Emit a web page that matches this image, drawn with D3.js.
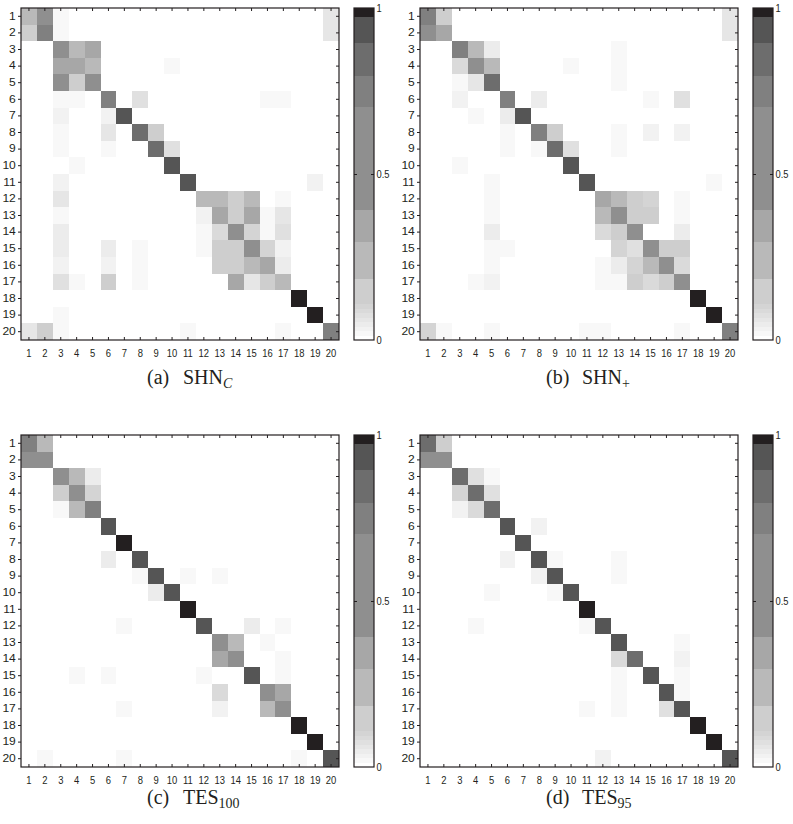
<!DOCTYPE html>
<html><head><meta charset="utf-8">
<script src="https://cdn.jsdelivr.net/npm/d3@7"></script>
<style>body{margin:0;background:#fff}svg{display:block}</style>
</head><body>
<svg id="chart" width="793" height="824"></svg>
<script>
// ---------- data ----------
const classes = d3.range(1, 21);
const tickLabels = classes.map(String);
const cbTicks = [0, 0.5, 1];
const cbTickLabels = ["0", "0.5", "1"];
// quantised grey colormap (value thresholds -> grey)
const cmapThresholds = [0.0135,0.027,0.0405,0.054,0.0675,0.081,0.0945,0.108,0.184,0.296,0.392,0.703,0.795,0.894,0.972];
const cmapColors = ["#ffffff","#f8f8f8","#f2f2f2","#ececec","#e6e6e6","#e0e0e0","#dadada","#d4d4d4","#cecece","#b9b9b9","#a7a7a7","#8f8f8f","#808080","#6d6d6d","#555555","#231f20"];
const captionLabels = ["(a)", "(b)", "(c)", "(d)"];
const captionMain = ["SHN", "SHN", "TES", "TES"];
const captionSub = ["C", "+", "100", "95"];
const captionSubItalic = [true, false, false, false];

const shnC = [
[.24,.66,.02,0,0,0,0,0,0,0,0,0,0,0,0,0,0,0,0,.06],
[.15,.76,.02,0,0,0,0,0,0,0,0,0,0,0,0,0,0,0,0,.06],
[0,0,.42,.24,.33,0,0,0,0,0,0,0,0,0,0,0,0,0,0,0],
[0,0,.33,.33,.27,0,0,0,0,.02,0,0,0,0,0,0,0,0,0,0],
[0,0,.44,.14,.41,0,0,0,0,0,0,0,0,0,0,0,0,0,0,0],
[0,0,.02,.02,0,.78,0,.07,0,0,0,0,0,0,0,.02,.02,0,0,0],
[0,0,.035,0,0,.035,.93,0,0,0,0,0,0,0,0,0,0,0,0,0],
[0,0,.02,0,0,.06,0,.80,.12,0,0,0,0,0,0,0,0,0,0,0],
[0,0,.02,0,0,.02,0,0,.85,.075,0,0,0,0,0,0,0,0,0,0],
[0,0,0,.02,0,0,0,0,0,.95,0,0,0,0,0,0,0,0,0,0],
[0,0,.035,0,0,0,0,0,0,0,.93,0,0,0,0,0,0,0,.035,0],
[0,0,.06,0,0,0,0,0,0,0,0,.22,.22,.14,.26,0,.02,0,0,0],
[0,0,.02,0,0,0,0,0,0,0,0,.035,.32,.14,.35,.02,.06,0,0,0],
[0,0,.047,0,0,0,0,0,0,0,0,.02,.085,.45,.1,.02,.074,0,0,0],
[0,0,.047,0,0,.047,0,.02,0,0,0,.02,.12,.12,.45,.1,.035,0,0,0],
[0,0,.035,0,0,.035,0,.02,0,0,0,0,.13,.13,.25,.33,.047,0,0,0],
[0,0,.074,.02,0,.12,0,.02,0,0,0,0,0,.31,.055,.13,.25,0,0,0],
[0,0,0,0,0,0,0,0,0,0,0,0,0,0,0,0,0,.99,0,0],
[0,0,.02,0,0,0,0,0,0,0,0,0,0,0,0,0,0,0,.98,0],
[.06,.13,.02,0,0,0,0,0,0,0,.02,0,0,0,0,0,.02,0,0,.75]
];
const shnPlus = [
[.75,.15,0,0,0,0,0,0,0,0,0,0,0,0,0,0,0,0,0,.06],
[.55,.35,0,0,0,0,0,0,0,0,0,0,0,0,0,0,0,0,0,.06],
[0,0,.72,.24,.047,0,0,0,0,0,0,0,.02,0,0,0,0,0,0,0],
[0,0,.085,.5,.26,0,0,0,0,.02,0,0,.02,0,0,0,0,0,0,0],
[0,0,.02,.06,.82,0,0,0,0,0,0,0,.02,0,0,0,0,0,0,0],
[0,0,.035,0,0,.74,0,.047,0,0,0,0,0,0,.02,0,.074,0,0,0],
[0,0,0,.02,0,.05,.93,0,0,0,0,0,0,0,0,0,0,0,0,0],
[0,0,0,0,0,.02,0,.72,.15,0,0,0,.02,0,.035,0,.035,0,0,0],
[0,0,0,0,0,.02,0,.02,.84,.074,0,0,.02,0,0,0,0,0,0,0],
[0,0,.02,0,0,0,0,0,0,.95,0,0,0,0,0,0,0,0,0,0],
[0,0,0,0,.02,0,0,0,0,0,.93,0,0,0,0,0,0,0,.02,0],
[0,0,0,0,.02,0,0,0,0,0,0,.33,.25,.15,.1,0,.02,0,0,0],
[0,0,0,0,.02,0,0,0,0,0,0,.22,.42,.14,.14,0,.02,0,0,0],
[0,0,0,0,.047,0,0,0,0,0,0,.088,.14,.6,0,0,.047,0,0,0],
[0,0,0,0,.02,.02,0,0,0,0,0,0,.1,.074,.5,.13,.13,0,0,0],
[0,0,0,0,.02,0,0,0,0,0,0,.02,.05,.1,.24,.45,.088,0,0,0],
[0,0,0,.02,.035,0,0,0,0,0,0,.02,.02,.14,.088,.13,.5,0,0,0],
[0,0,0,0,0,0,0,0,0,0,0,0,0,0,0,0,0,.99,0,0],
[0,0,0,0,0,0,0,0,0,0,0,0,0,0,0,0,0,0,.98,0],
[.1,.02,0,0,.02,0,0,0,0,0,.02,.02,0,0,0,0,.02,0,0,.75]
];
const tes100 = [
[.75,.25,0,0,0,0,0,0,0,0,0,0,0,0,0,0,0,0,0,0],
[.5,.5,0,0,0,0,0,0,0,0,0,0,0,0,0,0,0,0,0,0],
[0,0,.5,.24,.047,0,0,0,0,0,0,0,0,0,0,0,0,0,0,0],
[0,0,.14,.5,.1,0,0,0,0,0,0,0,0,0,0,0,0,0,0,0],
[0,0,.02,.24,.74,0,0,0,0,0,0,0,0,0,0,0,0,0,0,0],
[0,0,0,0,0,.93,0,0,0,0,0,0,0,0,0,0,0,0,0,0],
[0,0,0,0,0,0,.99,0,0,0,0,0,0,0,0,0,0,0,0,0],
[0,0,0,0,0,.047,0,.93,0,0,0,0,0,0,0,0,0,0,0,0],
[0,0,0,0,0,0,0,.02,.93,0,.02,0,.02,0,0,0,0,0,0,0],
[0,0,0,0,0,0,0,0,.047,.93,0,0,0,0,0,0,0,0,0,0],
[0,0,0,0,0,0,0,0,0,0,.99,0,0,0,0,0,0,0,0,0],
[0,0,0,0,0,0,.02,0,0,0,0,.93,0,0,.047,0,.02,0,0,0],
[0,0,0,0,0,0,0,0,0,0,0,0,.55,.24,0,.02,0,0,0,0],
[0,0,0,0,0,0,0,0,0,0,0,0,.33,.6,0,0,.02,0,0,0],
[0,0,0,.02,0,.02,0,0,0,0,0,.02,0,0,.93,0,.02,0,0,0],
[0,0,0,0,0,0,0,0,0,0,0,0,.088,0,0,.55,.33,0,0,0],
[0,0,0,0,0,0,.02,0,0,0,0,0,.035,0,0,.24,.6,0,0,0],
[0,0,0,0,0,0,0,0,0,0,0,0,0,0,0,0,0,.99,0,0],
[0,0,0,0,0,0,0,0,0,0,0,0,0,0,0,0,0,0,.98,0],
[0,.02,0,0,0,0,.02,0,0,0,0,0,0,0,0,0,0,.02,0,.93]
];
const tes95 = [
[.85,.14,0,0,0,0,0,0,0,0,0,0,0,0,0,0,0,0,0,0],
[.5,.5,0,0,0,0,0,0,0,0,0,0,0,0,0,0,0,0,0,0],
[0,0,.84,.074,.02,0,0,0,0,0,0,0,0,0,0,0,0,0,0,0],
[0,0,.1,.83,.074,0,0,0,0,0,0,0,0,0,0,0,0,0,0,0],
[0,0,.035,.088,.84,0,0,0,0,0,0,0,0,0,0,0,0,0,0,0],
[0,0,0,0,0,.93,0,.035,0,0,0,0,0,0,0,0,0,0,0,0],
[0,0,0,0,0,0,.95,0,0,0,0,0,0,0,0,0,0,0,0,0],
[0,0,0,0,0,.035,0,.92,.02,0,0,0,.02,0,0,0,0,0,0,0],
[0,0,0,0,0,0,0,.035,.93,0,0,0,.02,0,0,0,0,0,0,0],
[0,0,0,0,.02,0,0,0,.02,.93,0,0,0,0,0,0,0,0,0,0],
[0,0,0,0,0,0,0,0,0,0,.99,0,0,0,0,0,0,0,0,0],
[0,0,0,.02,0,0,0,0,0,0,.02,.93,0,0,0,0,0,0,0,0],
[0,0,0,0,0,0,0,0,0,0,0,0,.93,0,0,0,.02,0,0,0],
[0,0,0,0,0,0,0,0,0,0,0,0,.088,.85,0,0,.035,0,0,0],
[0,0,0,0,0,0,0,0,0,0,0,0,.02,0,.93,0,.02,0,0,0],
[0,0,0,0,0,0,0,0,0,0,0,0,.02,0,0,.93,.02,0,0,0],
[0,0,0,0,0,0,0,0,0,0,.02,0,.02,0,0,.074,.9,0,0,0],
[0,0,0,0,0,0,0,0,0,0,0,0,0,0,0,0,0,.99,0,0],
[0,0,0,0,0,0,0,0,0,0,0,0,0,0,0,0,0,0,.98,0],
[0,0,0,0,0,0,0,0,0,0,0,.035,0,0,0,0,0,0,0,.93]
];
const matrices = [shnC, shnPlus, tes100, tes95];

// ---------- drawing ----------
const svg = d3.select("#chart");
const W = 318, H = 332, CBX = 333, CBW = 20;
const ink = "#231f20";
const sans = "'Liberation Sans', Arial, Helvetica, sans-serif";
const serif = "'Liberation Serif', 'Times New Roman', serif";
const origins = [[21, 8], [420, 8], [21, 435], [420, 435]];
const captionOffsets = [44, 44, 37, 37];

const color = d3.scaleThreshold().domain(cmapThresholds).range(cmapColors);
const x = d3.scaleBand().domain(classes).range([0, W]);
const y = d3.scaleBand().domain(classes).range([0, H]);
const cy = d3.scaleLinear().domain([0, 1]).range([H, 0]);

function styleAxis(g) {
  g.select(".domain").remove();
  g.selectAll(".tick line").attr("stroke", ink).attr("stroke-width", 1);
  g.selectAll(".tick text").attr("fill", ink).attr("font-family", sans);
}

matrices.forEach((m, i) => {
  const [ox, oy] = origins[i];
  const g = svg.append("g").attr("transform", `translate(${ox},${oy})`);
  const cells = m.flatMap((row, r) => row.map((v, c) => ({ r: classes[r], c: classes[c], v })));
  g.append("g").selectAll("rect").data(cells).join("rect")
    .attr("x", d => x(d.c)).attr("y", d => y(d.r))
    .attr("width", x.bandwidth()).attr("height", y.bandwidth())
    .attr("fill", d => color(d.v)).attr("shape-rendering", "crispEdges");

  // bottom axis with labels (inward ticks)
  g.append("g").attr("transform", `translate(0,${H})`)
    .call(d3.axisBottom(x).tickFormat((d, k) => tickLabels[k]).tickSizeInner(-3).tickSizeOuter(0).tickPadding(9))
    .call(styleAxis)
    .call(a => a.selectAll(".tick text").attr("font-size", 11.5).attr("transform", "scale(0.82,1)"));
  // top axis (ticks only)
  g.append("g")
    .call(d3.axisTop(x).tickFormat("").tickSizeInner(-3).tickSizeOuter(0))
    .call(styleAxis);
  // left axis with labels
  g.append("g")
    .call(d3.axisLeft(y).tickFormat((d, k) => tickLabels[k]).tickSizeInner(3).tickSizeOuter(0).tickPadding(1.5))
    .call(styleAxis)
    .call(a => a.selectAll(".tick text").attr("font-size", 10.5).attr("transform", "scale(1.15,1)"));
  // right axis ticks
  g.append("g").attr("transform", `translate(${W},0)`)
    .call(d3.axisRight(y).tickFormat("").tickSizeInner(-3).tickSizeOuter(0))
    .call(styleAxis);
  // frame
  g.append("rect").attr("width", W).attr("height", H)
    .attr("fill", "none").attr("stroke", ink).attr("stroke-width", 1.2);

  // colour bar
  const cb = g.append("g").attr("transform", `translate(${CBX},0)`);
  const bands = cmapColors.map((c, k) => ({
    lo: k === 0 ? 0 : cmapThresholds[k - 1],
    hi: k === cmapColors.length - 1 ? 1 : cmapThresholds[k],
    c
  }));
  cb.selectAll("rect.band").data(bands).join("rect").attr("class", "band")
    .attr("x", 0).attr("width", CBW)
    .attr("y", d => cy(d.hi)).attr("height", d => cy(d.lo) - cy(d.hi))
    .attr("fill", d => d.c).attr("shape-rendering", "crispEdges");
  cb.append("g")
    .call(d3.axisLeft(cy).tickValues([0.5]).tickFormat("").tickSizeInner(-3).tickSizeOuter(0))
    .call(styleAxis);
  cb.append("g").attr("transform", `translate(${CBW},0)`)
    .call(d3.axisRight(cy).tickValues(cbTicks).tickFormat((d, k) => cbTickLabels[k]).tickSizeInner(-3).tickSizeOuter(0).tickPadding(3))
    .call(styleAxis)
    .call(a => a.selectAll(".tick text").attr("font-size", 11).attr("transform", "scale(0.85,1)"))
    .call(a => a.selectAll(".tick line").filter(d => d !== 0.5).remove());
  cb.append("rect").attr("width", CBW).attr("height", H)
    .attr("fill", "none").attr("stroke", ink).attr("stroke-width", 1.2);

  // caption
  const cap = g.append("g").attr("transform", `translate(0,${H + captionOffsets[i]})`)
    .attr("font-family", serif).attr("font-size", 20).attr("fill", ink);
  cap.append("text").attr("x", 126).text(captionLabels[i]);
  const t = cap.append("text").attr("x", 162);
  t.append("tspan").text(captionMain[i]);
  t.append("tspan").attr("font-size", 14).attr("dy", 4)
    .attr("font-style", captionSubItalic[i] ? "italic" : "normal").text(captionSub[i]);
});
</script>
</body></html>
